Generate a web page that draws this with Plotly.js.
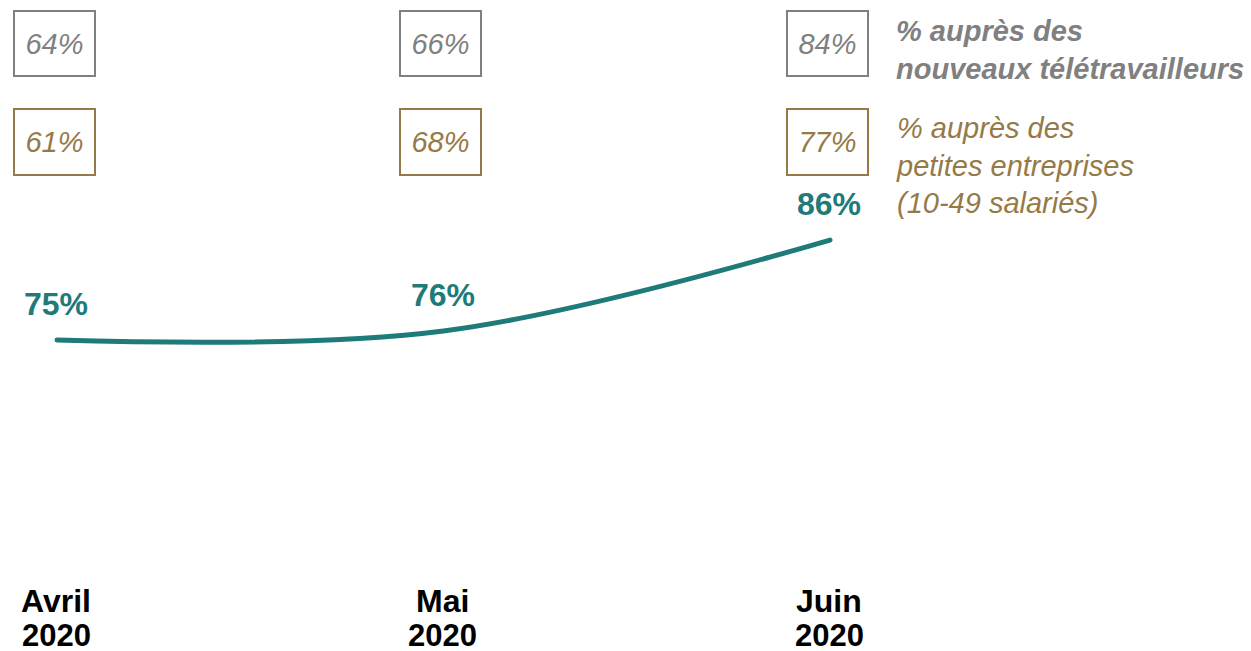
<!DOCTYPE html>
<html>
<head>
<meta charset="utf-8">
<script src="https://cdn.plot.ly/plotly-3.0.1.min.js"></script>
<style>html,body{margin:0;padding:0;background:#fff;}#chart{width:1251px;height:651px;}
#chart path.js-line{stroke-linecap:round;}</style>
</head>
<body>
<div id="chart"></div>
<script>
const monthNames = ["Avril", "Mai", "Juin"];
const years = ["2020", "2020", "2020"];
const overall = [75, 76, 86];
const newTeleworkers = [64, 66, 84];
const smallCompanies = [61, 68, 77];
const legendNewTeleworkers = ["% auprès des", "nouveaux télétravailleurs"];
const legendSmallCompanies = ["% auprès des", "petites entreprises", "(10-49 salariés)"];

const TEAL = "#1f7a7a", GRAY = "#808080", TAN = "#957a48";
const FONT = "Liberation Sans, Arial, sans-serif";
const xs = monthNames.map((_, i) => i);

const annotations = [];
function paperY(px) { return 1 - px / 651; }
xs.forEach((x, i) => {
  annotations.push({
    x: x, y: overall[i], xref: "x", yref: "y", text: "<b>" + overall[i] + "%</b>",
    showarrow: false, yshift: 36, xshift: -1, xanchor: "center", yanchor: "middle",
    font: {family: FONT, size: 32, color: TEAL}
  });
  annotations.push({
    x: x, y: paperY(43.5), xref: "x", yref: "paper", text: "<i>" + newTeleworkers[i] + "%</i>",
    showarrow: false, xshift: -3, xanchor: "center", yanchor: "middle",
    width: 79, height: 63, borderpad: 0,
    bordercolor: GRAY, borderwidth: 2,
    font: {family: FONT, size: 29, color: GRAY}
  });
  annotations.push({
    x: x, y: paperY(142), xref: "x", yref: "paper", text: "<i>" + smallCompanies[i] + "%</i>",
    showarrow: false, xshift: -3, xanchor: "center", yanchor: "middle",
    width: 79, height: 64, borderpad: 0,
    bordercolor: TAN, borderwidth: 2,
    font: {family: FONT, size: 29, color: TAN}
  });
  annotations.push({
    x: x, y: paperY(601), xref: "x", yref: "paper", text: "<b>" + monthNames[i] + "</b>",
    showarrow: false, xshift: -1, xanchor: "center", yanchor: "middle", height: 28,
    font: {family: FONT, size: 32, color: "#000"}
  });
  annotations.push({
    x: x, y: paperY(635), xref: "x", yref: "paper", text: "<b>" + years[i] + "</b>",
    showarrow: false, xshift: -1, xanchor: "center", yanchor: "middle", height: 28,
    font: {family: FONT, size: 31, color: "#000"}
  });
});
annotations.push({
  x: 894 / 1251, y: paperY(50.5), xref: "paper", yref: "paper", xanchor: "left", yanchor: "middle", align: "left",
  text: legendNewTeleworkers.map(s => "<b><i>" + s + "</i></b>").join("<br>"), showarrow: false,
  font: {family: FONT, size: 29, color: GRAY}
});
annotations.push({
  x: 894 / 1251, y: paperY(165), xref: "paper", yref: "paper", xanchor: "left", yanchor: "middle", align: "left",
  text: legendSmallCompanies.map(s => "<i>" + s + "</i>").join("<br>"), showarrow: false,
  font: {family: FONT, size: 29, color: TAN}
});

const trace = {
  x: xs, y: overall, type: "scatter", mode: "lines",
  line: {color: TEAL, width: 5, shape: "spline", smoothing: 1},
  hoverinfo: "skip"
};

const layout = {
  width: 1251, height: 651,
  margin: {l: 0, r: 0, t: 0, b: 0},
  paper_bgcolor: "#fff", plot_bgcolor: "#fff",
  showlegend: false,
  xaxis: {range: [-57 / 386.5, (1251 - 57) / 386.5], visible: false, fixedrange: true},
  yaxis: {range: [40.8, 112.4], visible: false, fixedrange: true},
  annotations: annotations
};

Plotly.newPlot("chart", [trace], layout, {displayModeBar: false, staticPlot: true});
</script>
</body>
</html>
